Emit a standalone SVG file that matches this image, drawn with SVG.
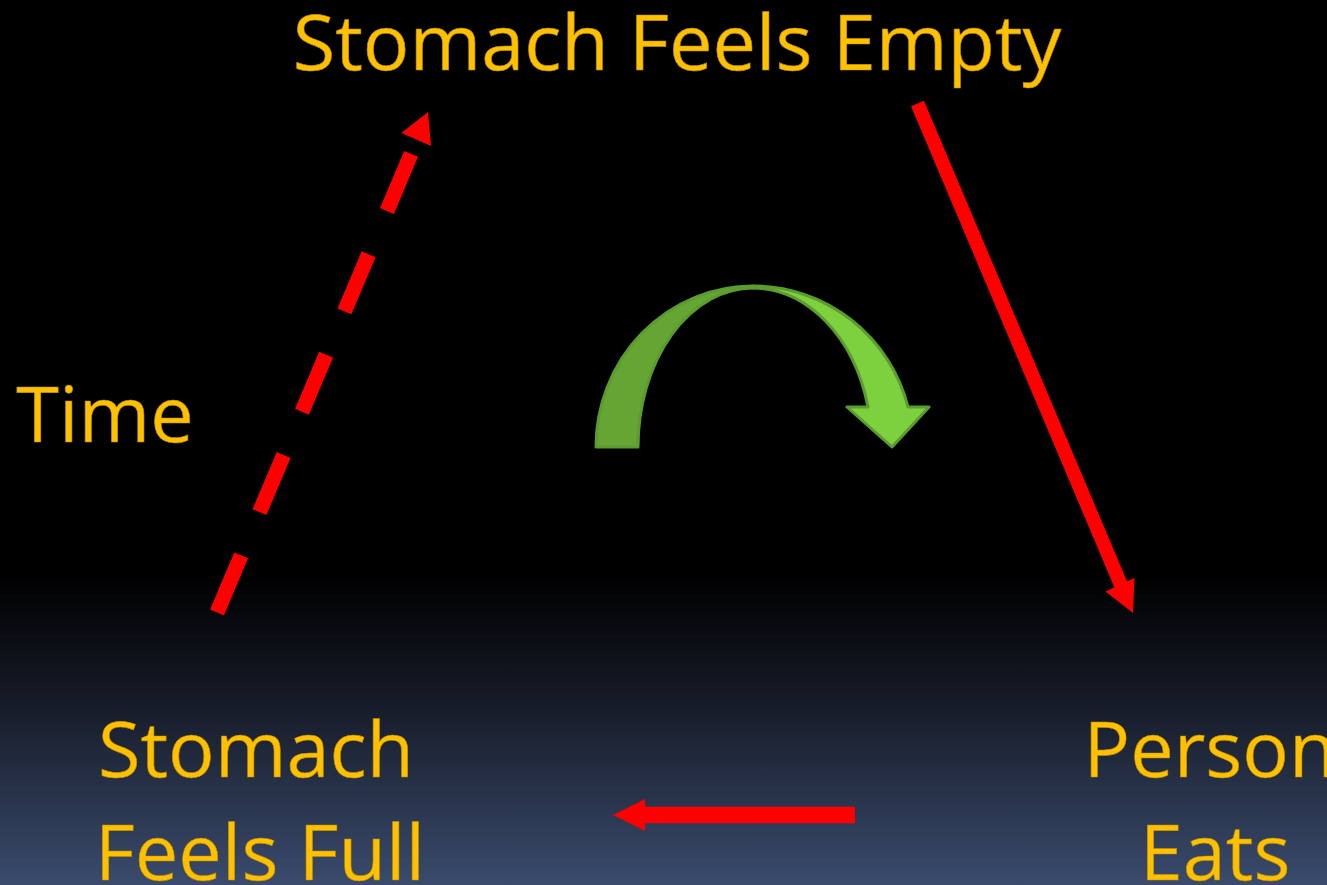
<svg xmlns="http://www.w3.org/2000/svg" width="1327" height="885" viewBox="0 0 1327 885">
  <defs>
    <linearGradient id="bg" x1="0" y1="0" x2="0" y2="885" gradientUnits="userSpaceOnUse">
      <stop offset="0" stop-color="#000000"/>
      <stop offset="0.65" stop-color="#000000"/>
      <stop offset="0.8" stop-color="#171c29"/>
      <stop offset="1" stop-color="#3a4b6d"/>
    </linearGradient>
  </defs>
  <style>
    .lbl { font-family: "Open Sans", "Noto Sans", sans-serif; font-size: 77.5px; fill: #ffc000; stroke: #b88c00; stroke-width: 0.6; }
    .red { stroke: #ff0000; fill: none; }
    .head { fill: #ff0000; }
    .arc { stroke: #5c9c2e; stroke-width: 3; stroke-linejoin: round; }
  </style>
  <rect width="1327" height="885" fill="url(#bg)"/>

  <g id="connectors">
    <g id="dashed-arrow">
      <line class="red" x1="217" y1="612.5" x2="417" y2="140" stroke-width="15" stroke-dasharray="62 47"/>
      <polygon class="head" points="428,112 401.5,133 431,146"/>
    </g>
    <g id="solid-arrow">
      <line class="red" x1="917.5" y1="103.5" x2="1121" y2="585" stroke-width="14"/>
      <polygon class="head" points="1133,613 1105.5,591.5 1134.5,578"/>
    </g>
    <g id="left-arrow">
      <line class="red" x1="855" y1="815" x2="643" y2="815" stroke-width="16.5"/>
      <polygon class="head" points="613,815 645,799 645,831"/>
    </g>
    <g id="green-arrow">
      <path class="arc" fill="#64a534" d="M596,447 A157,161 0 0 1 753,286 L753,288 A115,159 0 0 0 638,447 Z"/>
      <path class="arc" fill="#7dd03e" d="M753,286 A160,161 0 0 1 908,407 L929,407 L892,447 L847,407 L868,407 A119,159 0 0 0 753,288 Z"/>
    </g>
  </g>

  <g id="node-empty">
    <text class="lbl" x="677" y="70" text-anchor="middle">Stomach Feels Empty</text>
  </g>
  <g id="node-time">
    <text class="lbl" x="105" y="442" text-anchor="middle">Time</text>
  </g>
  <g id="node-full">
    <text class="lbl" x="256" y="777" text-anchor="middle">Stomach</text>
    <text class="lbl" x="260" y="880" text-anchor="middle">Feels Full</text>
  </g>
  <g id="node-eats">
    <text class="lbl" x="1210" y="777" text-anchor="middle">Person</text>
    <text class="lbl" x="1215" y="880" text-anchor="middle">Eats</text>
  </g>
</svg>
